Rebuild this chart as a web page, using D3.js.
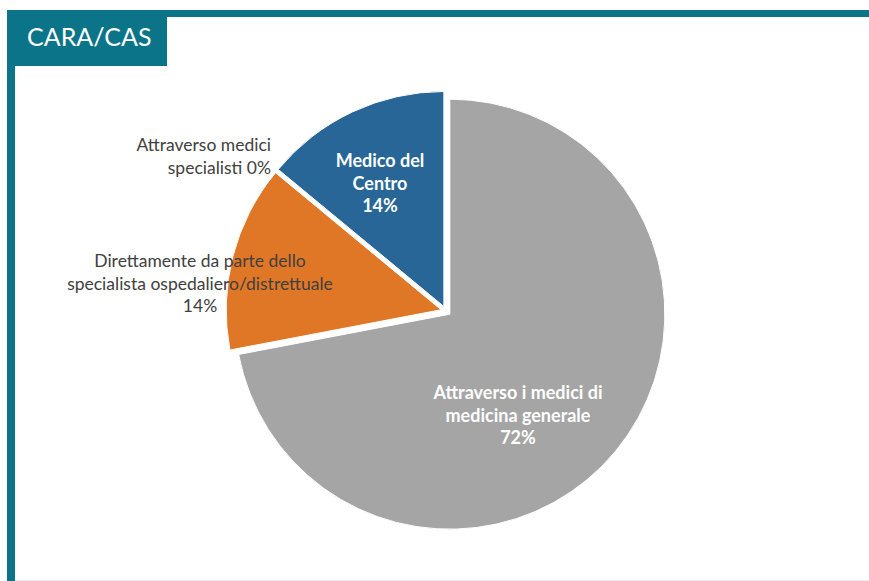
<!DOCTYPE html>
<html>
<head>
<meta charset="utf-8">
<script src="https://cdn.jsdelivr.net/npm/d3@7"></script>
<style>
  body { margin: 0; background: #fff; }
  text { font-family: Lato, "Open Sans", sans-serif; }
</style>
</head>
<body>
<div class="pie"></div>
<script>
// Chart data
const categories = [
  'Attraverso i medici di medicina generale',
  'Direttamente da parte dello specialista ospedaliero/distrettuale',
  'Attraverso medici specialisti',
  'Medico del Centro'
];
const values = [72, 14, 0, 14];
const colors = ['#a5a5a5', '#e07726', '#a5a5a5', '#276696'];
const title = 'CARA/CAS';

const width = 869;
const height = 581;
const cx = 446, cy = 311, radius = 215, explode = 5;

const svg = d3.select('.pie')
  .append('svg')
  .attr('width', width)
  .attr('height', height);

// frame: top bar, left bar, title tab
svg.append('rect').attr('x', 7).attr('y', 10).attr('width', width - 7).attr('height', 7).attr('fill', '#0c7489');
svg.append('rect').attr('x', 7).attr('y', 10).attr('width', 8).attr('height', height - 10).attr('fill', '#0c7489');
svg.append('rect').attr('x', 7).attr('y', 10).attr('width', 160).attr('height', 56).attr('fill', '#0c7489');
svg.append('line').attr('x1', 15).attr('x2', width).attr('y1', 580.5).attr('y2', 580.5)
  .attr('stroke', '#eeeeee').attr('stroke-width', 1);

svg.append('text')
  .attr('x', 27)
  .attr('y', 46)
  .attr('fill', '#fff')
  .style('font-size', '25px')
  .text(title);

const pieData = categories.map((c, i) => ({ label: c, value: values[i], color: colors[i] }));

const pie = d3.pie().sort(null).value(d => d.value);
const arc = d3.arc().innerRadius(0).outerRadius(radius);

const arcs = pie(pieData);

const g = svg.append('g').attr('transform', `translate(${cx},${cy})`);

// slices, each pushed out along its mid angle
g.selectAll('.slice')
  .data(arcs.filter(d => d.value > 0))
  .enter()
  .append('path')
  .attr('class', 'slice')
  .attr('d', arc)
  .attr('fill', d => d.data.color)
  .attr('stroke', '#fff')
  .attr('stroke-width', 1)
  .attr('transform', d => {
    const a = (d.startAngle + d.endAngle) / 2;
    return `translate(${Math.sin(a) * explode},${-Math.cos(a) * explode})`;
  });

// labels (line breaks and positions as in the original)
const labels = [
  { lines: ['Attraverso i medici di', 'medicina generale', '72%'], x: 518, y: 399, anchor: 'middle', fill: '#fff', weight: 'bold', size: 18 },
  { lines: ['Direttamente da parte dello', 'specialista ospedaliero/distrettuale', '14%'], x: 200, y: 267, anchor: 'middle', fill: '#404040', weight: 'normal', size: 17.5 },
  { lines: ['Attraverso medici', 'specialisti 0%'], x: 271, y: 151, anchor: 'end', fill: '#404040', weight: 'normal', size: 17.5 },
  { lines: ['Medico del', 'Centro', '14%'], x: 380, y: 167, anchor: 'middle', fill: '#fff', weight: 'bold', size: 18 }
];

labels.forEach(l => {
  const t = svg.append('text')
    .attr('x', l.x)
    .attr('y', l.y)
    .attr('text-anchor', l.anchor)
    .attr('fill', l.fill)
    .style('font-size', l.size + 'px')
    .style('font-weight', l.weight);
  l.lines.forEach((s, i) => {
    t.append('tspan')
      .attr('x', l.x)
      .attr('dy', i === 0 ? 0 : 22.5)
      .text(s);
  });
});
</script>
</body>
</html>
